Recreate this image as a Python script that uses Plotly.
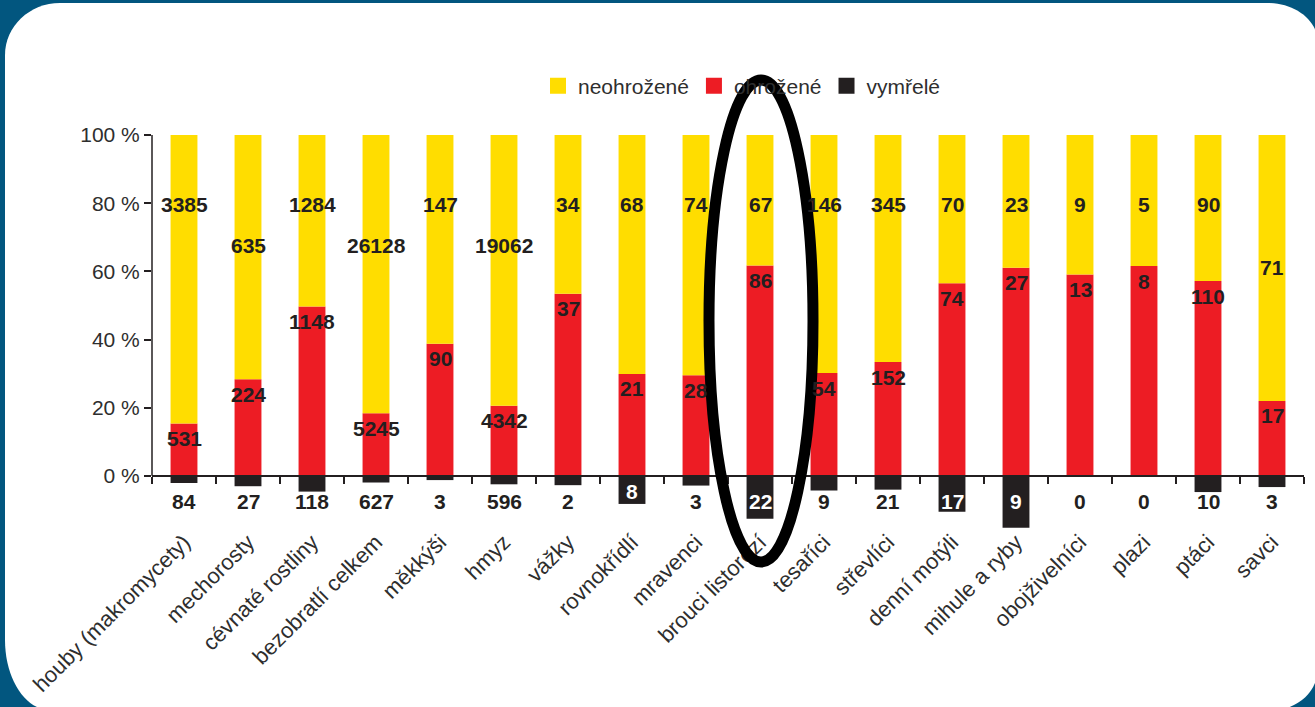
import plotly.graph_objects as go

# ---------------- data ----------------
categories = ["houby (makromycety)", "mechorosty", "cévnaté rostliny", "bezobratlí celkem",
              "měkkýši", "hmyz", "vážky", "rovnokřídlí", "mravenci", "brouci listorozí",
              "tesaříci", "střevlíci", "denní motýli", "mihule a ryby", "obojživelníci",
              "plazi", "ptáci", "savci"]
neohrozene = [3385, 635, 1284, 26128, 147, 19062, 34, 68, 74, 67, 146, 345, 70, 23, 9, 5, 90, 71]
ohrozene = [531, 224, 1148, 5245, 90, 4342, 37, 21, 28, 86, 54, 152, 74, 27, 13, 8, 110, 17]
vymrele = [84, 27, 118, 627, 3, 596, 2, 8, 3, 22, 9, 21, 17, 9, 0, 0, 10, 3]
series_names = ["neohrožené", "ohrožené", "vymřelé"]
y_tick_vals = [0, 20, 40, 60, 80, 100]
y_tick_text = ["0 %", "20 %", "40 %", "60 %", "80 %", "100 %"]

# label placement (style, in % of axis)
neo_label_y = [79.5, 67.5, 79.5, 67.5, 79.5, 67.5, 79.5, 79.5, 79.5, 79.5,
               79.5, 79.5, 79.5, 79.5, 79.5, 79.5, 79.5, 61]
vym_label_y = [-7.6, -7.6, -7.6, -7.6, -7.6, -7.6, -7.6, -4.6, -7.6, -7.6,
               -7.6, -7.6, -7.6, -7.6, -7.6, -7.6, -7.6, -7.6]

# ---------------- styles ----------------
YELLOW = "#FFDD00"
RED = "#ED1C24"
BLACK = "#231F20"
BLUE = "#02567F"
TXT = "#2E2E2E"
FONT = "Liberation Sans, Arial, Helvetica, sans-serif"

W, H = 1315, 707
L, R, T, B = 152, 1304, 135, 544
Y_MIN, Y_MAX = -20, 100

totals = [n + o + v for n, o, v in zip(neohrozene, ohrozene, vymrele)]
pct_red = [(o + v) / t * 100 for o, v, t in zip(ohrozene, vymrele, totals)]
pct_yel = [n / t * 100 for n, t in zip(neohrozene, totals)]
pct_blk = [-v / t * 100 for v, t in zip(vymrele, totals)]

fig = go.Figure()
fig.add_trace(go.Bar(x=categories, y=pct_red, marker=dict(color=RED, line=dict(width=0)),
                     width=0.42, showlegend=False, hoverinfo="skip"))
fig.add_trace(go.Bar(x=categories, y=pct_yel, marker=dict(color=YELLOW, line=dict(width=0)),
                     width=0.42, showlegend=False, hoverinfo="skip"))
fig.add_trace(go.Bar(x=categories, y=pct_blk, marker=dict(color=BLACK, line=dict(width=0)),
                     width=0.42, showlegend=False, hoverinfo="skip"))

# legend entries
for name, col in zip(series_names, [YELLOW, RED, BLACK]):
    fig.add_trace(go.Scatter(x=[None], y=[None], mode="markers", name=name,
                             marker=dict(symbol="square", size=17, color=col, line=dict(width=0))))

annotations = []
bold = dict(family=FONT, size=21, color=BLACK, weight="bold")
for i, c in enumerate(categories):
    annotations.append(dict(x=c, y=neo_label_y[i], text=str(neohrozene[i]), showarrow=False,
                            font=bold, xanchor="center", yanchor="middle"))
    annotations.append(dict(x=c, y=pct_red[i], text=str(ohrozene[i]), showarrow=False,
                            font=bold, xanchor="center", yanchor="middle", yshift=-15))
    col = "white" if -pct_blk[i] > 7 else BLACK
    annotations.append(dict(x=c, y=vym_label_y[i], text=str(vymrele[i]), showarrow=False,
                            font=dict(family=FONT, size=21, color=col, weight="bold"),
                            xanchor="center", yanchor="middle"))


def px(xpix):
    return (xpix - L) / (R - L)


def py(ypix):
    return (B - ypix) / (B - T)


# white rounded card behind everything
k = 0.5523
x0, y0, x1, y1 = 5, 3, 1318, 710
rtl, rtr, rbr, rbl = (55, 52), (50, 40), (45, 42), (45, 70)
pts = []
pts.append(f"M{px(x0 + rtl[0])},{py(y0)}")
pts.append(f"L{px(x1 - rtr[0])},{py(y0)}")
pts.append(f"C{px(x1 - rtr[0] + k * rtr[0])},{py(y0)} {px(x1)},{py(y0 + rtr[1] - k * rtr[1])} {px(x1)},{py(y0 + rtr[1])}")
pts.append(f"L{px(x1)},{py(y1 - rbr[1])}")
pts.append(f"C{px(x1)},{py(y1 - rbr[1] + k * rbr[1])} {px(x1 - rbr[0] + k * rbr[0])},{py(y1)} {px(x1 - rbr[0])},{py(y1)}")
pts.append(f"L{px(x0 + rbl[0])},{py(y1)}")
pts.append(f"C{px(x0 + rbl[0] - k * rbl[0])},{py(y1)} {px(x0)},{py(y1 - rbl[1] + k * rbl[1])} {px(x0)},{py(y1 - rbl[1])}")
pts.append(f"L{px(x0)},{py(y0 + rtl[1])}")
pts.append(f"C{px(x0)},{py(y0 + rtl[1] - k * rtl[1])} {px(x0 + rtl[0] - k * rtl[0])},{py(y0)} {px(x0 + rtl[0])},{py(y0)}")
pts.append("Z")

shapes = [
    dict(type="path", xref="paper", yref="paper", path=" ".join(pts),
         fillcolor="white", line=dict(width=0), layer="below"),
    # y axis line from 0 % to 100 %
    dict(type="line", xref="paper", yref="y", x0=0, x1=0, y0=0, y1=100,
         line=dict(color=BLACK, width=1.5)),
    # highlight ellipse
    dict(type="circle", xref="paper", yref="paper",
         x0=px(709), x1=px(813), y0=py(562), y1=py(80),
         line=dict(color="black", width=11), fillcolor="rgba(0,0,0,0)", layer="above"),
]

fig.update_layout(
    width=W, height=H,
    margin=dict(l=L, r=W - R, t=T, b=H - B, pad=0),
    paper_bgcolor=BLUE, plot_bgcolor="rgba(0,0,0,0)",
    barmode="relative", bargap=0.58,
    font=dict(family=FONT, color=TXT),
    showlegend=True,
    legend=dict(orientation="h", x=px(538), xanchor="left", y=py(86), yanchor="middle",
                font=dict(family=FONT, size=21, color=TXT), bgcolor="rgba(0,0,0,0)",
                borderwidth=0, itemclick=False, traceorder="normal"),
    annotations=annotations,
    shapes=shapes,
    xaxis=dict(type="category", range=[-0.5, len(categories) - 0.5], anchor="free",
               position=(0 - Y_MIN) / (Y_MAX - Y_MIN),
               showline=True, linecolor=BLACK, linewidth=1.5, tickson="boundaries",
               ticks="outside", ticklen=7, tickwidth=1.5, tickcolor=BLACK,
               tickangle=-45, ticklabelstandoff=44, showgrid=False, zeroline=False,
               tickfont=dict(family=FONT, size=22, color=TXT)),
    yaxis=dict(range=[Y_MIN, Y_MAX], tickvals=y_tick_vals, ticktext=y_tick_text,
               ticks="outside", ticklen=7, tickwidth=1.5, tickcolor=BLACK,
               showline=False, showgrid=False, zeroline=False,
               tickfont=dict(family=FONT, size=21, color=TXT)),
)

fig.write_html("out.html", post_script="document.body.style.margin='0';",
               config={"displayModeBar": False})
